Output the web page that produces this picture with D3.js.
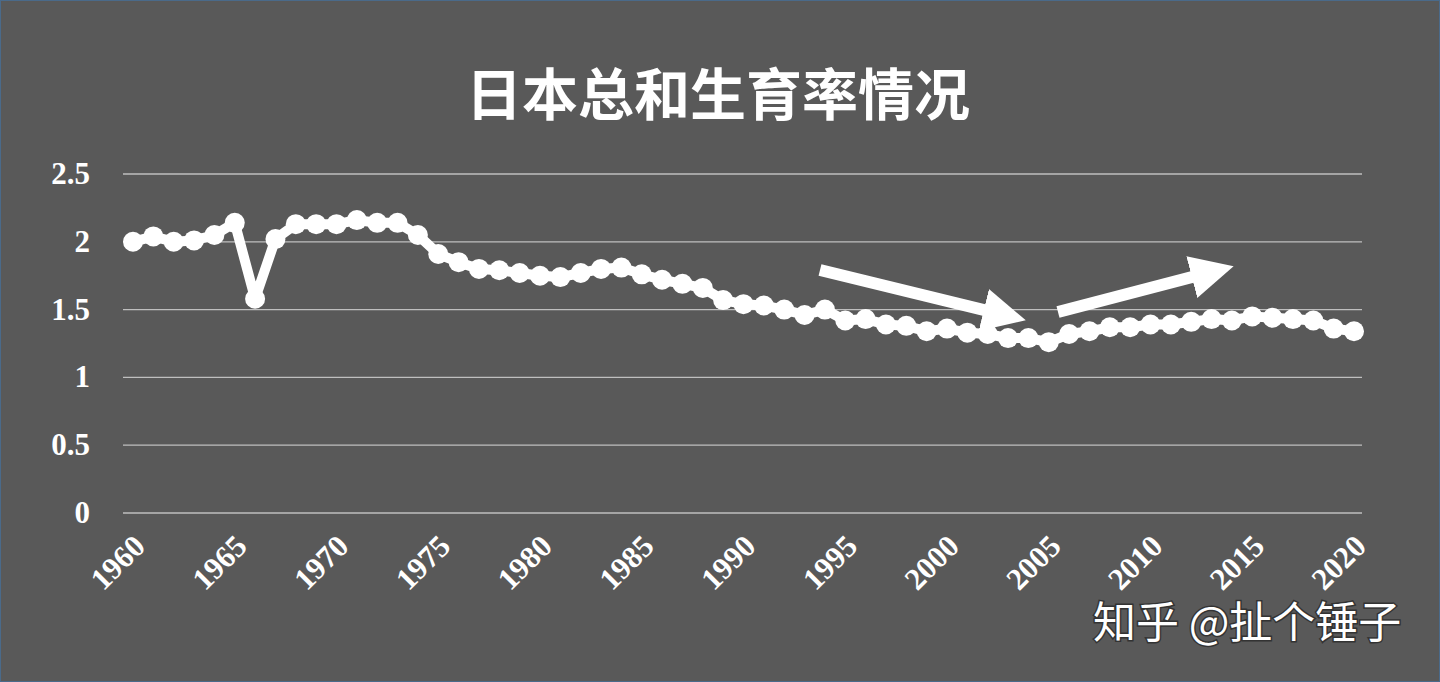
<!DOCTYPE html>
<html><head><meta charset="utf-8">
<script src="https://cdn.jsdelivr.net/npm/d3@7"></script>
<style>
body{margin:0;background:#595959;}
svg{display:block;}
</style></head>
<body><svg id="chart" width="1440" height="682"></svg>
<script>
const years = d3.range(1960, 2021);
const tfr = [2.00,2.04,2.00,2.01,2.05,2.14,1.58,2.02,2.13,2.13,2.13,2.16,2.14,2.14,2.05,1.91,1.85,1.80,1.79,1.77,
  1.75,1.74,1.77,1.80,1.81,1.76,1.72,1.69,1.66,1.57,1.54,1.53,1.50,1.46,1.50,1.42,1.43,1.39,1.38,1.34,
  1.36,1.33,1.32,1.29,1.29,1.26,1.32,1.34,1.37,1.37,1.39,1.39,1.41,1.43,1.42,1.45,1.44,1.43,1.42,1.36,1.34];
const yTicks = [0,0.5,1,1.5,2,2.5];
const xTicks = [1960,1965,1970,1975,1980,1985,1990,1995,2000,2005,2010,2015,2020];

const svg = d3.select("#chart");
svg.append("rect").attr("x",0.5).attr("y",0.5).attr("width",1439).attr("height",681)
  .attr("fill","#595959").attr("stroke","#4a6a8a").attr("stroke-width",1);

const x = d3.scaleLinear().domain([1960,2020]).range([133,1354]);
const y = d3.scaleLinear().domain([0,2.5]).range([513,174]);

svg.append("text").attr("x",718).attr("y",115).attr("text-anchor","middle")
  .attr("fill","#fff").attr("font-size",56).attr("font-weight","bold")
  .attr("font-family","'Noto Sans CJK SC',sans-serif").text("日本总和生育率情况");

// grid
svg.selectAll(".grid").data(yTicks).enter().append("line")
  .attr("x1",123).attr("x2",1362).attr("y1",d=>y(d)).attr("y2",d=>y(d))
  .attr("stroke","#bfbfbf").attr("stroke-width",1.3);

svg.selectAll(".ylab").data(yTicks).enter().append("text")
  .attr("x",90).attr("y",d=>y(d)+10).attr("text-anchor","end")
  .attr("fill","#fff").attr("font-size",31).attr("font-weight","bold")
  .attr("font-family","'Liberation Serif',serif").text(d=>d);

svg.selectAll(".xlab").data(xTicks).enter().append("text")
  .attr("transform",d=>`translate(${x(d)+14},${548}) rotate(-45)`)
  .attr("text-anchor","end").attr("fill","#fff").attr("font-size",31).attr("font-weight","bold")
  .attr("font-family","'Liberation Serif',serif").text(d=>d);

const pts = years.map((yr,i)=>[yr,tfr[i]]);
svg.append("path").datum(pts)
  .attr("d",d3.line().x(d=>x(d[0])).y(d=>y(d[1])))
  .attr("fill","none").attr("stroke","#fff").attr("stroke-width",10).attr("stroke-linejoin","round");
svg.selectAll(".dot").data(pts).enter().append("circle")
  .attr("cx",d=>x(d[0])).attr("cy",d=>y(d[1])).attr("r",10).attr("fill","#fff");

// arrows
const defs = svg.append("defs");
defs.append("marker").attr("id","ah").attr("viewBox","0 0 10 10").attr("refX",1).attr("refY",5)
  .attr("markerWidth",3.6).attr("markerHeight",4.4).attr("orient","auto")
  .append("path").attr("d","M0,0L10,5L0,10Z").attr("fill","#fff");
[[820,270,988,311],[1058,312,1196,276]].forEach(a=>{
  svg.append("line").attr("x1",a[0]).attr("y1",a[1]).attr("x2",a[2]).attr("y2",a[3])
    .attr("stroke","#fff").attr("stroke-width",12).attr("marker-end","url(#ah)");
});

// watermark
svg.append("text").attr("x",1093).attr("y",638).attr("fill","#fff").attr("font-size",43)
  .attr("font-family","'Noto Sans CJK SC',sans-serif")
  .style("paint-order","stroke").attr("stroke","#333").attr("stroke-width",3)
  .text("知乎 @扯个锤子");
</script></body></html>
